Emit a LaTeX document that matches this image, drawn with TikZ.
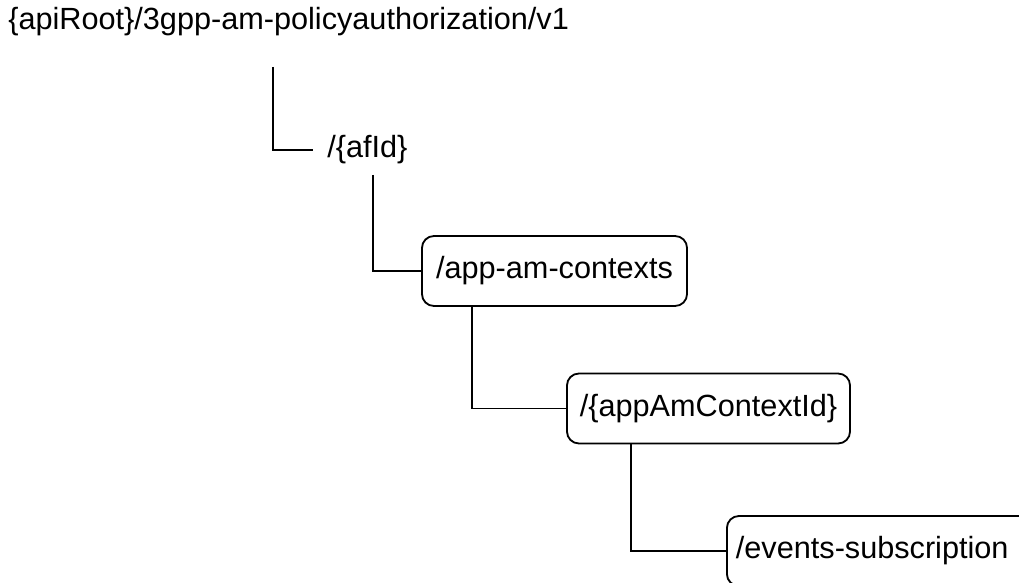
\documentclass[tikz,border=0pt]{standalone}
\usepackage{fontspec}
\setmainfont{Liberation Sans}
\usepackage{tikz}
\tikzset{
	resource/.style = {draw, rounded corners=0.3cm, line width=1.3pt, minimum height=1.75cm, inner sep=0pt},
	stem/.style = {line width=1.3pt}
}

\begin{document}
\begin{tikzpicture}[x=0.025cm, y=-0.025cm, font=\fontsize{21.8}{26}\selectfont]
			% page frame
			\useasboundingbox (0,0) rectangle (1019,583);
			\clip (0,0) rectangle (1019,583);
			% resource names
			\node[anchor=base west, inner sep=0pt] (root) at (8,30) {\{apiRoot\}/3gpp-am-policyauthorization/v1};
			\node[anchor=west, inner xsep=0.35cm, inner ysep=0pt] (afid) at (313,150) {/\{afId\}};
			\node[resource, minimum width=6.625cm] (contexts) at (554.5,271) {/app-am-contexts};
			\node[resource, minimum width=7.075cm] (context) at (708.5,408.5) {/\{appAmContextId\}};
			\node[resource, anchor=west, text width=7.5cm, align=left, inner xsep=0.225cm] (events) at (726,551) {/events-subscription};
			% tree lines
			\coordinate (rootstem) at (273,67);
			\coordinate (afidstem) at (373,175);
			\draw[stem] (rootstem) |- (afid.west);
			\draw[stem] (afidstem) |- (contexts.west);
			\draw[stem] (contexts.south west) ++(51,0) |- (context.west);
			\draw[stem] (context.south west) ++(65,0) |- (events.west);
		\end{tikzpicture}
\end{document}
